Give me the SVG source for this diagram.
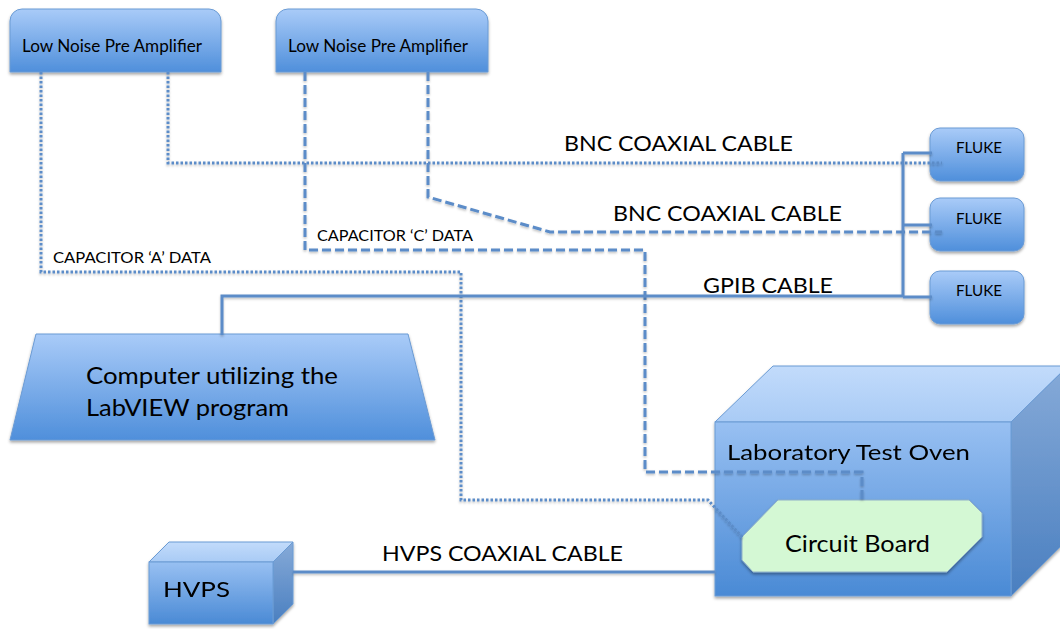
<svg xmlns="http://www.w3.org/2000/svg" width="1060" height="629" viewBox="0 0 1060 629">
<defs>
<linearGradient id="gBox" x1="0" y1="0" x2="0" y2="1">
<stop offset="0" stop-color="#a9cbf8"/>
<stop offset="1" stop-color="#4f8fdb"/>
</linearGradient>
<linearGradient id="gFront" x1="0" y1="0" x2="0" y2="1">
<stop offset="0" stop-color="#98c0f2"/>
<stop offset="1" stop-color="#4a8ad5"/>
</linearGradient>
<linearGradient id="gTop" x1="0" y1="0" x2="0" y2="1">
<stop offset="0" stop-color="#c2dbfb"/>
<stop offset="1" stop-color="#a9cbf5"/>
</linearGradient>
<linearGradient id="gSide" x1="0" y1="0" x2="0" y2="1">
<stop offset="0" stop-color="#86aad8"/>
<stop offset="1" stop-color="#4a7fc0"/>
</linearGradient>
<filter id="sh" x="-10%" y="-10%" width="120%" height="130%">
<feDropShadow dx="0" dy="2" stdDeviation="1.5" flood-color="#000" flood-opacity="0.35"/>
</filter>
<filter id="lsh" filterUnits="userSpaceOnUse" x="0" y="0" width="1060" height="629">
<feDropShadow dx="0" dy="1.5" stdDeviation="1" flood-color="#000" flood-opacity="0.25"/>
</filter>
</defs>
<style>
.box{fill:url(#gBox);stroke:#6b9bd4;stroke-width:1;filter:url(#sh)}
.front{fill:url(#gFront);stroke:#6b9bd4;stroke-width:1}
.top{fill:url(#gTop);stroke:#6b9bd4;stroke-width:1}
.side{fill:url(#gSide);stroke:#6b9bd4;stroke-width:1}
.t{font-family:Lato,"Liberation Sans",sans-serif;fill:#000}
.c{fill:none;stroke:#5b8cc8;stroke-width:3;filter:url(#lsh)}
.dot{stroke-dasharray:2.5 2}
.dash{stroke-dasharray:9 4}
</style>

<g id="lnpa1">
<path class="box" d="M10,72 V21 A12,12 0 0 1 22,9 H209 A12,12 0 0 1 221,21 V72 Z"/>
<text class="t" x="22" y="52" font-size="17" textLength="180" lengthAdjust="spacingAndGlyphs">Low Noise Pre Amplifier</text>
</g>
<g id="lnpa2">
<path class="box" d="M276,72 V21 A12,12 0 0 1 288,9 H476 A12,12 0 0 1 488,21 V72 Z"/>
<text class="t" x="288" y="52" font-size="17" textLength="180" lengthAdjust="spacingAndGlyphs">Low Noise Pre Amplifier</text>
</g>

<g id="fluke1">
<rect class="box" x="930" y="128" width="94" height="53" rx="10"/>
<text class="t" x="956" y="153" font-size="16" textLength="46" lengthAdjust="spacingAndGlyphs">FLUKE</text>
</g>
<g id="fluke2">
<rect class="box" x="930" y="198" width="94" height="53" rx="10"/>
<text class="t" x="956" y="224" font-size="16" textLength="46" lengthAdjust="spacingAndGlyphs">FLUKE</text>
</g>
<g id="fluke3">
<rect class="box" x="930" y="271" width="94" height="53" rx="10"/>
<text class="t" x="956" y="296" font-size="16" textLength="46" lengthAdjust="spacingAndGlyphs">FLUKE</text>
</g>

<g id="computer">
<path class="box" d="M36,334 H408 L435,440 H10 Z"/>
<text class="t" x="86" y="384" font-size="24" textLength="252" lengthAdjust="spacingAndGlyphs">Computer utilizing the</text>
<text class="t" x="86" y="416" font-size="24" textLength="203" lengthAdjust="spacingAndGlyphs">LabVIEW program</text>
</g>

<g id="oven" filter="url(#sh)">
<path class="top" d="M715,422 L773,366 H1068 L1011,422 Z"/>
<path class="side" d="M1011,422 L1068,366 V539 L1011,596 Z"/>
<rect class="front" x="715" y="422" width="296" height="174"/>
<text class="t" x="727" y="460" font-size="22" textLength="243" lengthAdjust="spacingAndGlyphs">Laboratory Test Oven</text>
</g>

<g id="circuit-board">
<path d="M778,500 H969 L982,513 V537 L947,572 H753 L742,560 V537 Z" fill="#d4f8d4" stroke="#8fb0c8" stroke-width="1" filter="url(#sh)"/>
<text class="t" x="785" y="552" font-size="23" textLength="145" lengthAdjust="spacingAndGlyphs">Circuit Board</text>
</g>

<g id="hvps" filter="url(#sh)">
<path class="top" d="M149,562 L169,542 H293 L273,562 Z"/>
<path class="side" d="M273,562 L293,542 V604 L273,624 Z"/>
<rect class="front" x="149" y="562" width="124" height="62"/>
<text class="t" x="163" y="597" font-size="22" textLength="67" lengthAdjust="spacingAndGlyphs">HVPS</text>
</g>

<g id="connectors">
<path class="c dot" d="M168,72 V163 H942"/>
<path class="c dash" d="M428,72 V197 L550,232 H942"/>
<path class="c dot" d="M41,72 V272 H461 V500 H708 L743,538"/>
<path class="c dash" d="M305,72 V250 H645 V472 H862 V500"/>
<path class="c" d="M222,335 V296 H903 M903,153 V297 M903,153 H932 M903,225 H932 M903,297 H932"/>
<path class="c" d="M293,572 H715"/>
</g>

<g id="labels">
<text class="t" x="564" y="151" font-size="22" textLength="229" lengthAdjust="spacingAndGlyphs">BNC COAXIAL CABLE</text>
<text class="t" x="613" y="221" font-size="22" textLength="229" lengthAdjust="spacingAndGlyphs">BNC COAXIAL CABLE</text>
<text class="t" x="703" y="293" font-size="22" textLength="130" lengthAdjust="spacingAndGlyphs">GPIB CABLE</text>
<text class="t" x="382" y="561" font-size="22" textLength="241" lengthAdjust="spacingAndGlyphs">HVPS COAXIAL CABLE</text>
<text class="t" x="317" y="241" font-size="15" textLength="156" lengthAdjust="spacingAndGlyphs">CAPACITOR ‘C’ DATA</text>
<text class="t" x="53" y="263" font-size="15" textLength="158" lengthAdjust="spacingAndGlyphs">CAPACITOR ‘A’ DATA</text>
</g>
</svg>
